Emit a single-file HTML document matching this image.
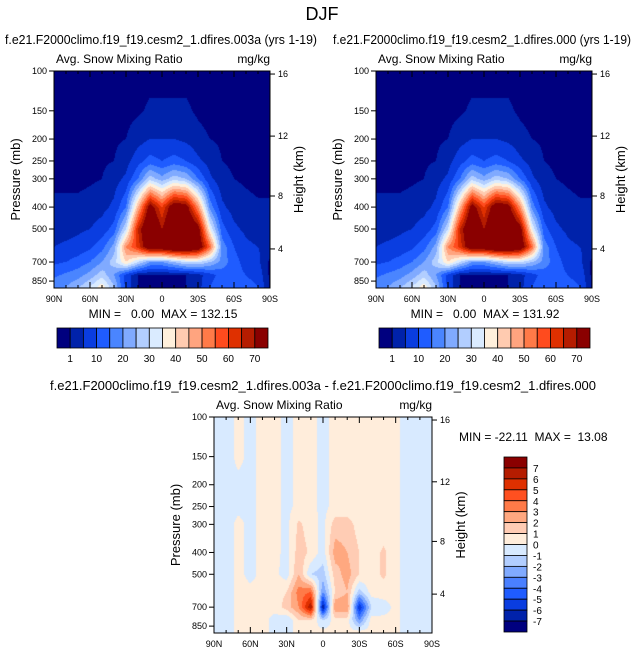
<!DOCTYPE html>
<html><head><meta charset="utf-8"><style>
body{margin:0;background:#fff;width:643px;height:658px;overflow:hidden;position:relative;font-family:"Liberation Sans",sans-serif}
canvas{position:absolute}
svg{position:absolute;left:0;top:0}
text{white-space:pre}
</style></head><body>
<canvas id="c1" style="left:54px;top:71px" width="216" height="217"></canvas>
<canvas id="c2" style="left:376px;top:71px" width="216" height="217"></canvas>
<canvas id="c3" style="left:214px;top:417px" width="218" height="216"></canvas>
<svg id="s" width="643" height="658" font-family="Liberation Sans, sans-serif">
<text x="322" y="20" font-size="18" text-anchor="middle">DJF</text>
</svg>
<script>
// ---- data ----
const lats = ["90N","80N","70N","60N","50N","40N","30N","20N","10N","0","10S","20S","30S","40S","50S","60S","70S","80S","90S"];
const pressures = [100,150,200,250,300,400,500,600,700,800,900];
const snowA = [
[0,0,0,0,0,0,0,0,0,0,0,0,0,0,0,0,0,0,0],
[0,0,0,0,0,0,0,0.5,1.5,1.5,1.5,1.5,0.5,0,0,0,0,0,0],
[0,0,0,0,0,0.5,1,3,5,5,5,4,2,1,0.5,0,0,0,0],
[0,0,0,0,0.5,1,3,8,12,10,12,10,6,3,1,0.5,0,0,0],
[0,0,0,0.5,1,3,6,15,28,22,28,25,15,6,2,1,0.5,0,0],
[2,2,2,2.5,3.5,6,15,45,75,60,78,75,50,18,6,3,2,1.5,1.5],
[3,3,4,5,7,12,30,65,85,70,85,85,75,35,12,6,4,3,3],
[5,6,7,9,13,22,50,62,80,80,85,85,80,55,18,10,6,5,4],
[9,10,12,15,20,28,40,30,20,20,25,30,30,25,18,12,8,6,0],
[14,16,18,22,28,20,8,1,0.5,0.5,0.5,1,3,8,12,12,10,8,0],
[18,20,24,30,38,25,8,1,0.5,0.5,0.5,1,3,10,14,14,12,10,0]];
const snowB = [
[0,0,0,0,0,0,0,0,0,0,0,0,0,0,0,0,0,0,0],
[0,0,0,0,0,0,0,0.5,1.5,1.5,1.5,1.5,0.5,0,0,0,0,0,0],
[0,0,0,0,0,0.5,1,3,5,5,5,4,2,1,0.5,0,0,0,0],
[0,0,0,0,0.5,1,3,8,12,10,12,10,6,3,1,0.5,0,0,0],
[0,0,0,0.5,1,3,6,15,28,22,28,25,15,6,2,1,0.5,0,0],
[2,2,2,2.5,3.5,6,15,45,75,60,78,75,50,18,6,3,2,1.5,1.5],
[3,3,4,5,7,12,30,65,85,70,85,85,75,35,12,6,4,3,3],
[5,6,7,9,13,22,50,62,80,80,85,85,80,55,18,10,6,5,4],
[9,10,12,15,20,28,40,30,20,20,25,30,30,25,18,12,8,6,0],
[14,16,18,22,28,20,8,1,0.5,0.5,0.5,1,3,8,12,12,10,8,0],
[18,20,24,30,38,25,8,1,0.5,0.5,0.5,1,3,10,14,14,12,10,0]];
const snowDiff = [
[-0.5,-0.5,0.3,-0.3,0.3,0.3,-0.3,0.3,0.3,-0.3,0.3,0.3,0.3,0.3,0.3,0.3,-0.5,-0.5,-0.5],
[-0.5,-0.5,0.3,-0.3,0.3,0.3,-0.3,0.3,0.3,-0.3,0.3,0.3,0.3,0.3,0.3,0.3,-0.5,-0.5,-0.5],
[-0.5,-0.5,-0.3,-0.3,0.3,0.3,-0.3,0.3,0.3,-0.3,0.3,0.3,0.3,0.3,0.3,0.3,-0.5,-0.5,-0.5],
[-0.5,-0.5,-0.3,-0.3,0.3,0.3,-0.3,0.3,0.3,-0.3,0.3,0.3,0.3,0.3,0.3,0.3,-0.5,-0.5,-0.5],
[-0.5,-0.5,0.3,-0.3,0.3,0.3,-0.3,1.2,0.5,-0.3,1.5,1.5,0.5,0.3,0.3,0.3,-0.5,-0.5,-0.5],
[-0.5,-0.5,0.3,-0.3,0.3,0.3,-0.3,1.5,0.8,-0.5,2.5,2,1,0.5,1.2,0.3,-0.5,-0.5,-0.5],
[-0.5,-0.5,0.3,-0.3,0.3,0.3,-0.5,2,-1,-1.5,1.5,2.5,1,0.5,1.2,0.3,-0.5,-0.5,-0.5],
[-0.5,-0.5,0.3,0.3,0.3,0.5,1,3.5,4,-3,1,2,-1.5,0.5,0.5,0.3,-0.5,-0.5,-0.5],
[-0.5,-0.5,0.3,0.3,0.3,0.3,1.5,3,7,-7,3,3,-6,-1,-0.5,0.3,-0.5,-0.5,-0.5],
[-0.5,-0.5,0.3,0.3,0.3,-0.3,-1,1,1,-1,0.5,0.5,-3,0.5,0.3,0.3,-0.5,-0.5,-0.5],
[-0.5,-0.5,0.3,0.3,0.3,-0.3,-0.5,0.5,0.3,0.3,0.3,0.3,0.3,0.3,0.3,0.3,-0.5,-0.5,-0.5]];
const snowLevels = [1,5,10,15,20,25,30,35,40,45,50,55,60,65,70];
const snowLabels = ["1","10","20","30","40","50","60","70"];
const diffLevels = [-7,-6,-5,-4,-3,-2,-1,0,1,2,3,4,5,6,7];
const pTicks = [100,150,200,250,300,400,500,700,850];
const hTicks = [16,12,8,4];
const hTickFrac = [0.014,0.300,0.576,0.820];
const snowColors = ["#00007f","#0022aa","#0a3de0","#1f5cff","#4a85ff","#80aaff","#b2ceff","#daebff","#fff0dc","#ffcbb0","#ffa47f","#ff7a48","#ff4b1e","#df3000","#b51c00","#8a0000"];
const diffColors = ["#00007f","#0022aa","#0a3de0","#1f5cff","#4a80ff","#80aaff","#b2ceff","#d8eaff","#ffeddb","#ffccb4","#ffa880","#ff7a48","#ff5020","#df3000","#b51c00","#8a0000"];
const PBOT = 912;

function hex(c){return [parseInt(c.slice(1,3),16),parseInt(c.slice(3,5),16),parseInt(c.slice(5,7),16)];}
function drawField(id,data,levels,colors){
  const cv=document.getElementById(id),ctx=cv.getContext('2d'),W=cv.width,H=cv.height;
  const img=ctx.createImageData(W,H);const cols=colors.map(hex);
  const lnP=pressures.map(p=>Math.log(p));
  for(let y=0;y<H;y++){
    const lp=Math.log(100)+(y+0.5)/H*(Math.log(PBOT)-Math.log(100));
    let r=0;while(r<pressures.length-2&&lp>lnP[r+1])r++;
    let fr=(lp-lnP[r])/(lnP[r+1]-lnP[r]);fr=Math.max(0,Math.min(1,fr));
    for(let x=0;x<W;x++){
      const cx=(x+0.5)/W*(lats.length-1);let c=Math.min(Math.floor(cx),lats.length-2);const fc=cx-c;
      const v=(data[r][c]*(1-fc)+data[r][c+1]*fc)*(1-fr)+(data[r+1][c]*(1-fc)+data[r+1][c+1]*fc)*fr;
      let k=0;while(k<levels.length&&v>=levels[k])k++;
      const col=cols[k],i=(y*W+x)*4;img.data[i]=col[0];img.data[i+1]=col[1];img.data[i+2]=col[2];img.data[i+3]=255;
    }
  }
  ctx.putImageData(img,0,0);
}
drawField('c1',snowA,snowLevels,snowColors);
drawField('c2',snowB,snowLevels,snowColors);
drawField('c3',snowDiff,diffLevels,diffColors);

const S=document.getElementById('s');const NS='http://www.w3.org/2000/svg';
function el(tag,attrs,txt){const e=document.createElementNS(NS,tag);for(const k in attrs)e.setAttribute(k,attrs[k]);if(txt!==undefined)e.textContent=txt;S.appendChild(e);return e;}
function panel(x0,y0,W,H,subtitle,subX,subLen,name){
  const r=el('rect',{x:x0,y:y0,width:W,height:H,fill:'none',stroke:'#000','stroke-width':1});
  
  const t=el('text',{x:subX,y:y0-27,'font-size':13,'text-anchor':'middle',textLength:subLen,lengthAdjust:'spacingAndGlyphs'},subtitle);
  
  const a=el('text',{x:x0+2,y:y0-8,'font-size':12},'Avg. Snow Mixing Ratio');
  
  const u=el('text',{x:x0+W,y:y0-8,'font-size':12,'text-anchor':'end'},'mg/kg');
  
  const pl=el('text',{x:0,y:0,'font-size':13,'text-anchor':'middle',transform:`translate(${x0-34},${y0+H/2}) rotate(-90)`},'Pressure (mb)');
  
  const hl=el('text',{x:0,y:0,'font-size':13,'text-anchor':'middle',transform:`translate(${x0+W+33},${y0+H/2}) rotate(-90)`},'Height (km)');
  
  const L=Math.log(PBOT/100);
  pTicks.forEach(p=>{const y=y0+Math.log(p/100)/L*H;
    el('line',{x1:x0-5,x2:x0,y1:y,y2:y,stroke:'#000'});
    const t=el('text',{x:x0-7,y:y+3,'font-size':9,'text-anchor':'end'},String(p));
    });
  hTicks.forEach((h,i)=>{const y=y0+hTickFrac[i]*H;
    el('line',{x1:x0+W,x2:x0+W+5,y1:y,y2:y,stroke:'#000'});
    const t=el('text',{x:x0+W+8,y:y+3,'font-size':9},String(h));
    });
  lats.forEach((l,i)=>{const x=x0+i/(lats.length-1)*W;const maj=i%3==0;const len=maj?6:3;
    el('line',{x1:x,x2:x,y1:y0+H,y2:y0+H-len,stroke:'#000'});
    el('line',{x1:x,x2:x,y1:y0,y2:y0+len,stroke:'#000'});
    if(maj){const t=el('text',{x:x,y:y0+H+14,'font-size':9,'text-anchor':'middle'},l);
      }});
}
panel(54,71,216,217,'f.e21.F2000climo.f19_f19.cesm2_1.dfires.003a (yrs 1-19)',161,312,'left-panel');
panel(376,71,216,217,'f.e21.F2000climo.f19_f19.cesm2_1.dfires.000 (yrs 1-19)',482,298,'right-panel');
panel(214,417,218,216,'f.e21.F2000climo.f19_f19.cesm2_1.dfires.003a - f.e21.F2000climo.f19_f19.cesm2_1.dfires.000',323,546,'diff-panel');
let m=el('text',{x:163,y:318,'font-size':12,'text-anchor':'middle'},'MIN =   0.00  MAX = 132.15');

m=el('text',{x:485,y:318,'font-size':12,'text-anchor':'middle'},'MIN =   0.00  MAX = 131.92');

m=el('text',{x:459,y:441,'font-size':12},'MIN = -22.11  MAX =  13.08');

function hbar(x0,y0,W,H,name){
  const bw=W/snowColors.length;
  snowColors.forEach((c,i)=>{const r=el('rect',{x:x0+i*bw,y:y0,width:bw,height:H,fill:c,stroke:'#000','stroke-width':0.8});
    });
  snowLabels.forEach((l,i)=>{const t=el('text',{x:x0+(2*i+1)*bw,y:y0+H+14,'font-size':10,'text-anchor':'middle'},l);
    });
}
hbar(57,328,211,20,'left-colorbar');
hbar(379,328,211,20,'right-colorbar');
(function(){const x0=504,y0=457,W=23,H=175,bh=H/diffColors.length;
  for(let i=0;i<diffColors.length;i++){const r=el('rect',{x:x0,y:y0+i*bh,width:W,height:bh,fill:diffColors[diffColors.length-1-i],stroke:'#000','stroke-width':0.8});
    }
  for(let i=0;i<diffLevels.length;i++){const v=diffLevels[diffLevels.length-1-i];
    const t=el('text',{x:x0+W+6,y:y0+(i+1)*bh+4,'font-size':10},String(v));
    }
})();
</script>
</body></html>
